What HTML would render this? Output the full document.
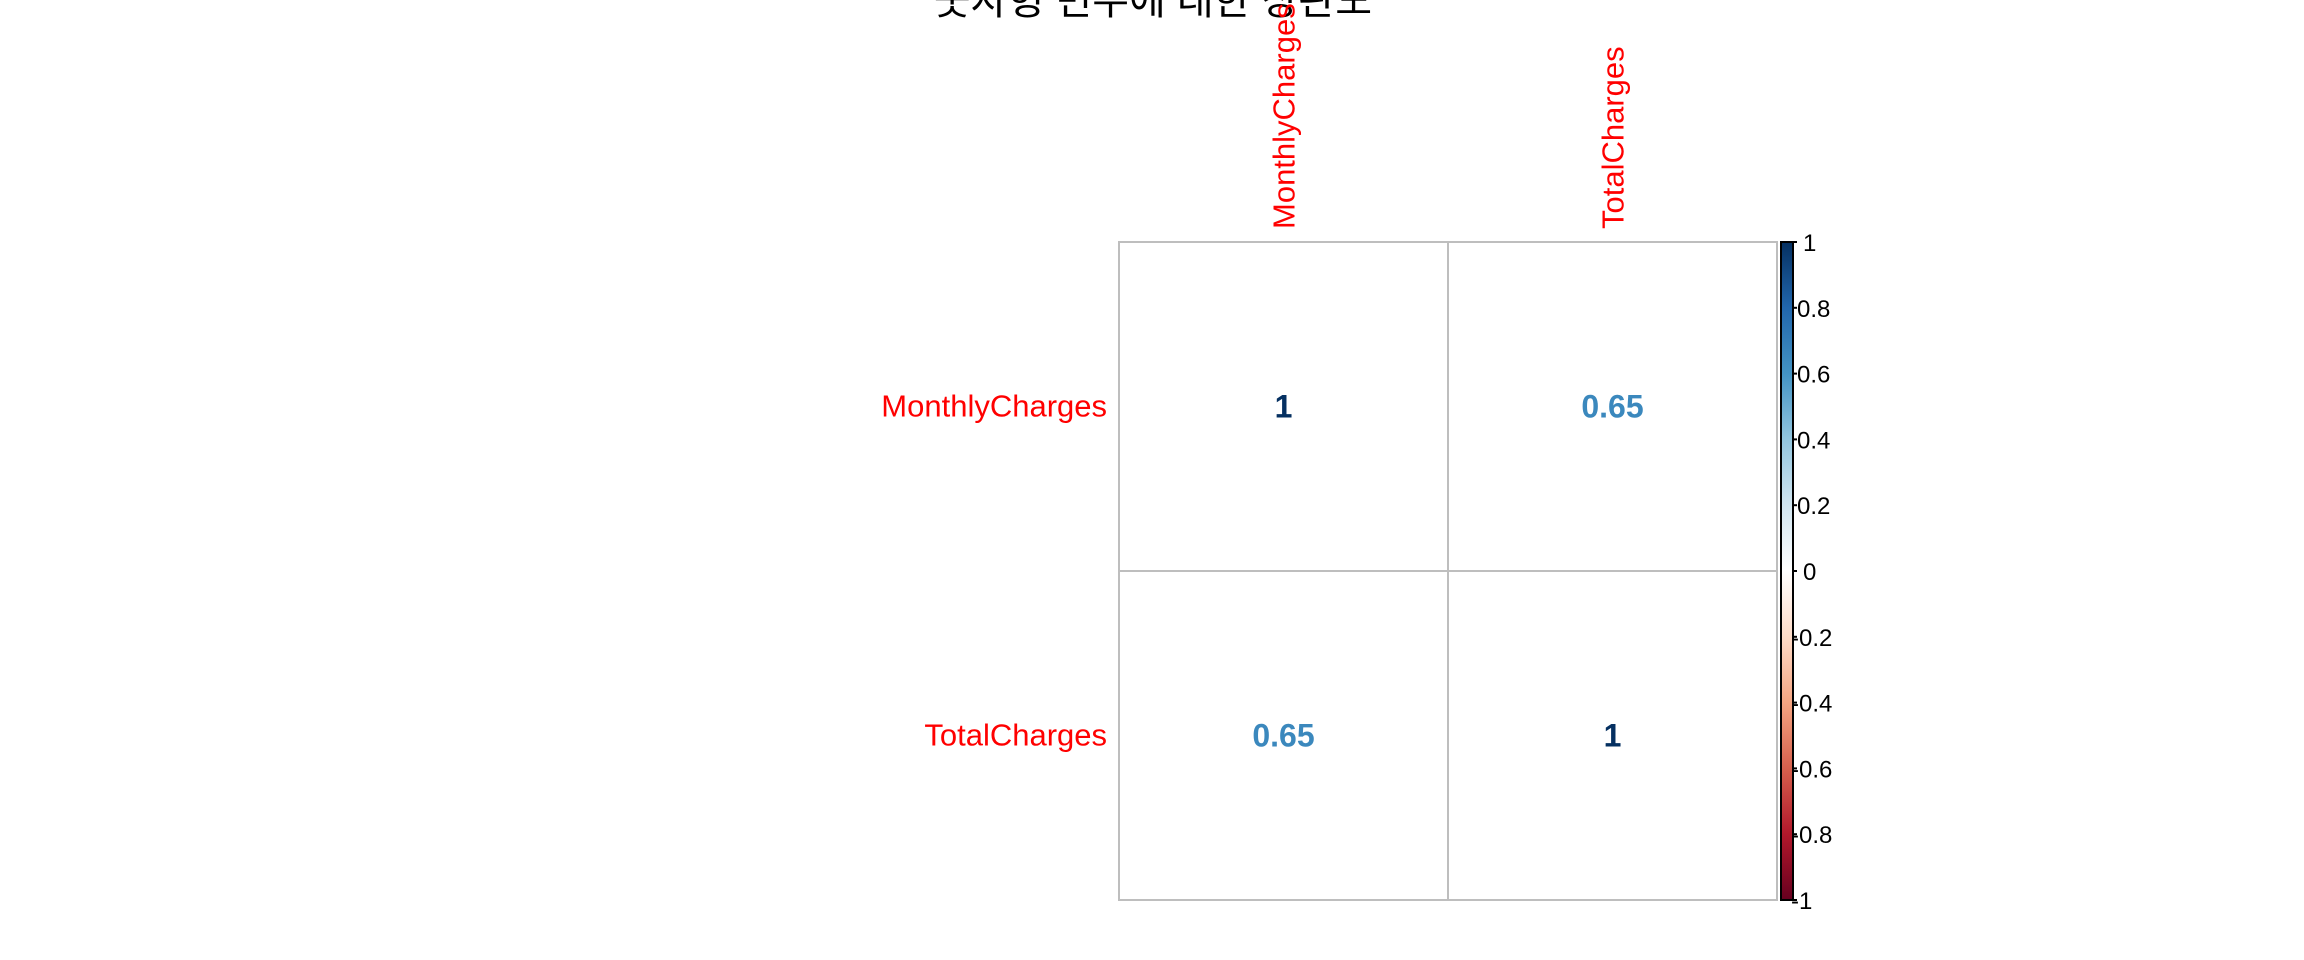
<!DOCTYPE html>
<html><head><meta charset="utf-8"><style>
html,body{margin:0;padding:0;background:#fff;width:2304px;height:960px;overflow:hidden}
svg{display:block;font-family:"Liberation Sans","Noto Sans CJK KR",sans-serif}
</style></head><body>
<svg id="chart" width="2304" height="960">
<text x="1153" y="14" font-size="40" text-anchor="middle" fill="#000">숫자형 변수에 대한 상관도</text>
<g id="cells"></g><g id="cbar"></g>
</svg>
<script>
const variables = ["MonthlyCharges","TotalCharges"];
const corrRow0 = [1, 0.65];
const corrRow1 = [0.65, 1];
const corr = [corrRow0, corrRow1];
const cbTicks = [1,0.8,0.6,0.4,0.2,0,-0.2,-0.4,-0.6,-0.8,-1];
const cbTickLabels = ["1","0.8","0.6","0.4","0.2","0","-0.2","-0.4","-0.6","-0.8","-1"];

const NS="http://www.w3.org/2000/svg";
const gx0=1119, gy0=242, cell=329, cbx=1781, cbw=12, cbTop=242, cbBot=900;
const stops=[[-1,"#67001F"],[-0.8,"#B2182B"],[-0.6,"#D6604D"],[-0.4,"#F4A582"],[-0.2,"#FDDBC7"],[0,"#FFFFFF"],[0.2,"#D1E5F0"],[0.4,"#92C5DE"],[0.6,"#4393C3"],[0.8,"#2166AC"],[1,"#053061"]];
function hex(h){return [1,3,5].map(i=>parseInt(h.substr(i,2),16));}
function col(v){for(let i=0;i<stops.length-1;i++){const[a,ca]=stops[i],[b,cb]=stops[i+1];if(v<=b){const t=(v-a)/(b-a),A=hex(ca),B=hex(cb);return "rgb("+A.map((x,k)=>Math.round(x+(B[k]-x)*t)).join(",")+")";}}return stops[stops.length-1][1];}
function el(tag,attrs,parent,text){const e=document.createElementNS(NS,tag);for(const k in attrs)e.setAttribute(k,attrs[k]);if(text!==undefined)e.textContent=text;parent.appendChild(e);return e;}
const xPos=j=>gx0+j*cell, yPos=i=>gy0+i*cell, cbY=v=>cbBot-(v+1)/2*(cbBot-cbTop);
const cells=document.getElementById('cells');
const n=variables.length;
for(let i=0;i<n;i++){for(let j=0;j<n;j++){
 const r=el('rect',{x:xPos(j),y:yPos(i),width:cell,height:cell,fill:"#fff",stroke:"#bebebe","stroke-width":2},cells);
 
 
 const t=el('text',{x:xPos(j)+cell/2,y:yPos(i)+cell/2+11,"font-size":32,"font-weight":"bold","text-anchor":"middle",fill:col(corr[i][j])},cells,String(corr[i][j]));
 
 
}}
variables.forEach((v,i)=>{
 const t=el('text',{x:1107,y:yPos(i)+cell/2+10,"font-size":31,"text-anchor":"end",fill:"#f00"},cells,v);
 
 
 const cx=xPos(i)+cell/2+11, cy=229;
 const c=el('text',{x:cx,y:cy,"font-size":31,"text-anchor":"start",fill:"#f00",transform:"rotate(-90 "+cx+" "+cy+")"},cells,v);
 
 
});
const cb=document.getElementById('cbar');
const defs=el('defs',{},cb);
const lg=el('linearGradient',{id:"rdbu",x1:0,y1:1,x2:0,y2:0},defs);
stops.forEach(s=>el('stop',{offset:((s[0]+1)/2*100)+"%","stop-color":s[1]},lg));
const bar=el('rect',{x:cbx,y:cbTop,width:cbw,height:cbBot-cbTop,fill:"url(#rdbu)",stroke:"#000","stroke-width":2},cb);


cbTicks.forEach((v,k)=>{
 const y=cbY(v);
 el('line',{x1:cbx+cbw,x2:cbx+cbw+4,y1:y,y2:y,stroke:"#000","stroke-width":2},cb);
 const t=el('text',{x:v<0?1791:(v===0||v===1?1803:1797),y:y+9,"font-size":24,fill:"#000"},cb,cbTickLabels[k]);
 
 
});
</script>
</body></html>
